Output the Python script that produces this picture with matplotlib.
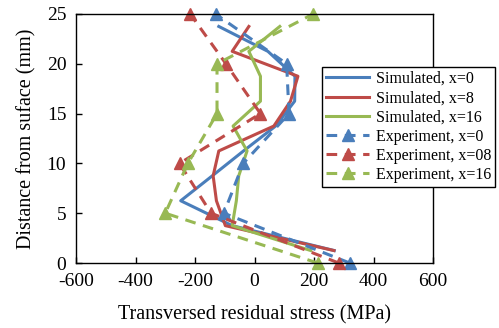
import matplotlib
matplotlib.use('Agg')
import matplotlib.pyplot as plt

plt.rcParams['font.family'] = 'Liberation Serif'
plt.rcParams['axes.unicode_minus'] = False

# Simulated profiles (depth in mm, stress in MPa)
prof_sim = [1.25, 3.75, 6.25, 8.75, 11.25, 13.75, 16.25, 18.75, 21.25, 23.75]
sim_x0 = [268, -75, -248, -142, -37, 71, 135, 136, 45, -120]
sim_x8 = [267, -98, -128, -139, -120, 65, 121, 146, -75, -19]
sim_x16 = [189, -75, -61, -53, -25, -72, 20, 20, -19, 85]

# Experimental profiles
prof_exp = [0, 5, 10, 15, 20, 25]
exp_x0 = [320, -103, -38, 116, 108, -131]
exp_x8 = [283, -146, -252, 20, -96, -216]
exp_x16 = [212, -300, -224, -126, -126, 197]

azul = '#4A7EBB'
rojo = '#BE4B48'
verde = '#98B954'

fig = plt.figure(figsize=(4.99, 3.28), dpi=100)
ax = fig.add_axes([76/499, 1-263/328, (433-76)/499, (263-14)/328])

lw = 2.2
ax.plot(sim_x0, prof_sim, color=azul, lw=lw, label='Simulated, x=0')
ax.plot(sim_x8, prof_sim, color=rojo, lw=lw, label='Simulated, x=8')
ax.plot(sim_x16, prof_sim, color=verde, lw=lw, label='Simulated, x=16')

dash = (0, (3.5, 2.5))
ax.plot(exp_x0, prof_exp, color=azul, lw=lw, ls=dash, marker='^', ms=8,
        clip_on=False, label='Experiment, x=0')
ax.plot(exp_x8, prof_exp, color=rojo, lw=lw, ls=dash, marker='^', ms=8,
        clip_on=False, label='Experiment, x=08')
ax.plot(exp_x16, prof_exp, color=verde, lw=lw, ls=dash, marker='^', ms=8,
        clip_on=False, label='Experiment, x=16')

ax.set_xlim(-600, 600)
ax.set_ylim(0, 25)
ax.set_xticks(range(-600, 601, 200))
ax.set_yticks(range(0, 26, 5))
ax.tick_params(direction='in', labelsize=14, length=4, width=1)
ax.tick_params(axis='x', pad=7)
ax.tick_params(axis='y', pad=7)
for s in ax.spines.values():
    s.set_linewidth(1)
ax.set_xlabel('Transversed residual stress (MPa)', fontsize=14.5, labelpad=11)
ax.set_ylabel('Distance from suface (mm)', fontsize=14.5, labelpad=7.5)

leg = fig.legend(loc='upper left', bbox_to_anchor=(322/499, 1-67/328),
                 fontsize=11.5, frameon=True, fancybox=False, edgecolor='black',
                 framealpha=1, handlelength=2.7, labelspacing=0.2,
                 borderpad=0.25, handletextpad=0.4, borderaxespad=0)
leg.get_frame().set_linewidth(1)

fig.savefig('out.png', dpi=100)
